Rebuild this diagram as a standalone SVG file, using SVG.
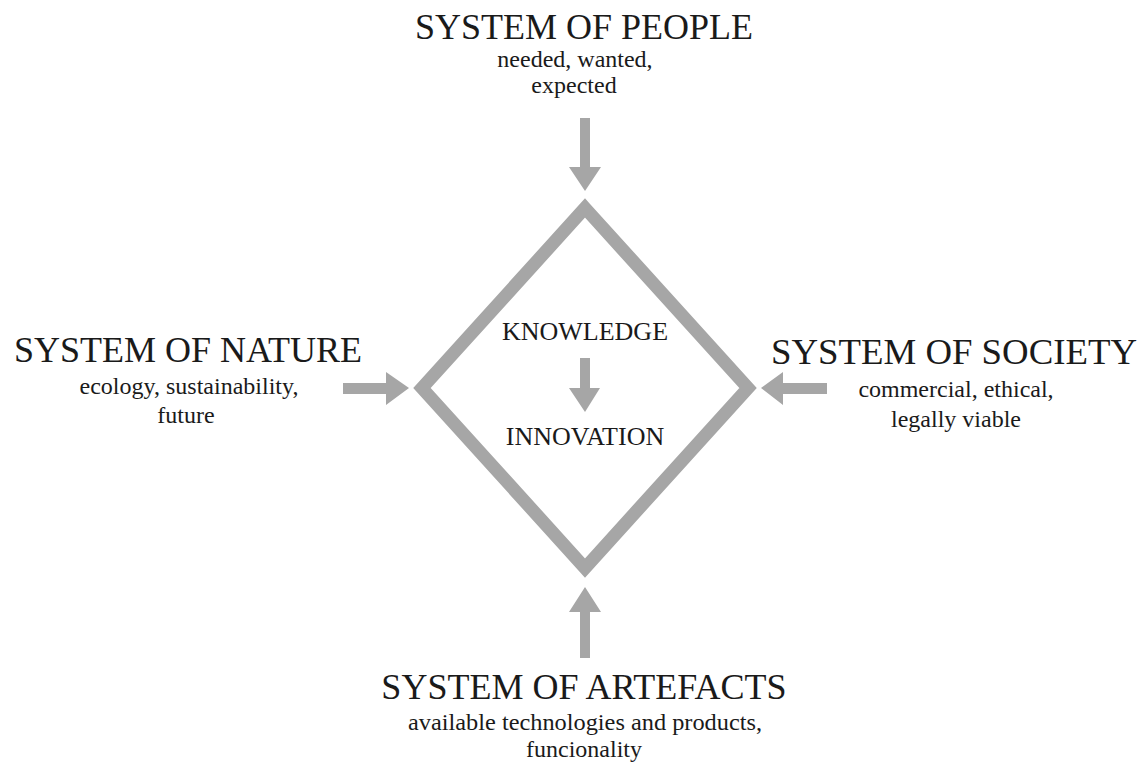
<svg xmlns="http://www.w3.org/2000/svg" width="1143" height="769" viewBox="0 0 1143 769">
<style>
.t{font-family:"Liberation Serif","Times New Roman",serif;fill:#1a1a1a;text-anchor:middle}
.h{font-size:36px}
.s{font-size:24px}
.k{font-size:26px}
.a{fill:#a6a6a6}
</style>
<rect width="1143" height="769" fill="#ffffff"/>
<g id="diamond">
<polygon points="585,208 748,388 585,568 422,388" fill="none" stroke="#a6a6a6" stroke-width="13" stroke-linejoin="miter"/>
<text class="t k" x="585" y="340">KNOWLEDGE</text>
<text class="t k" x="585" y="445">INNOVATION</text>
</g>
<g id="people">
<text class="t h" x="584" y="39">SYSTEM OF PEOPLE</text>
<text class="t s" x="575" y="67">needed, wanted,</text>
<text class="t s" x="574" y="93">expected</text>
</g>
<g id="nature">
<text class="t h" x="188" y="362">SYSTEM OF NATURE</text>
<text class="t s" x="189" y="394">ecology, sustainability,</text>
<text class="t s" x="186" y="423">future</text>
</g>
<g id="society">
<text class="t h" x="954" y="364" textLength="366" lengthAdjust="spacingAndGlyphs">SYSTEM OF SOCIETY</text>
<text class="t s" x="956" y="397">commercial, ethical,</text>
<text class="t s" x="956" y="427">legally viable</text>
</g>
<g id="artefacts">
<text class="t h" x="584" y="699">SYSTEM OF ARTEFACTS</text>
<text class="t s" x="585" y="730" textLength="354" lengthAdjust="spacingAndGlyphs">available technologies and products,</text>
<text class="t s" x="584" y="757">funcionality</text>
</g>
<g id="connectors">
<polygon class="a" points="580,118 590,118 590,167 601,167 585,191 569,167 580,167"/>
<polygon class="a" points="343,383 386,383 386,372 409,388 386,405 386,394 343,394"/>
<polygon class="a" points="827,383 783,383 783,372 761,388 783,405 783,394 827,394"/>
<polygon class="a" points="580,658 590,658 590,612 601,612 585,587 569,612 580,612"/>
<polygon class="a" points="580,358 590,358 590,388 600,388 585,412 569,388 580,388"/>
</g>
</svg>
